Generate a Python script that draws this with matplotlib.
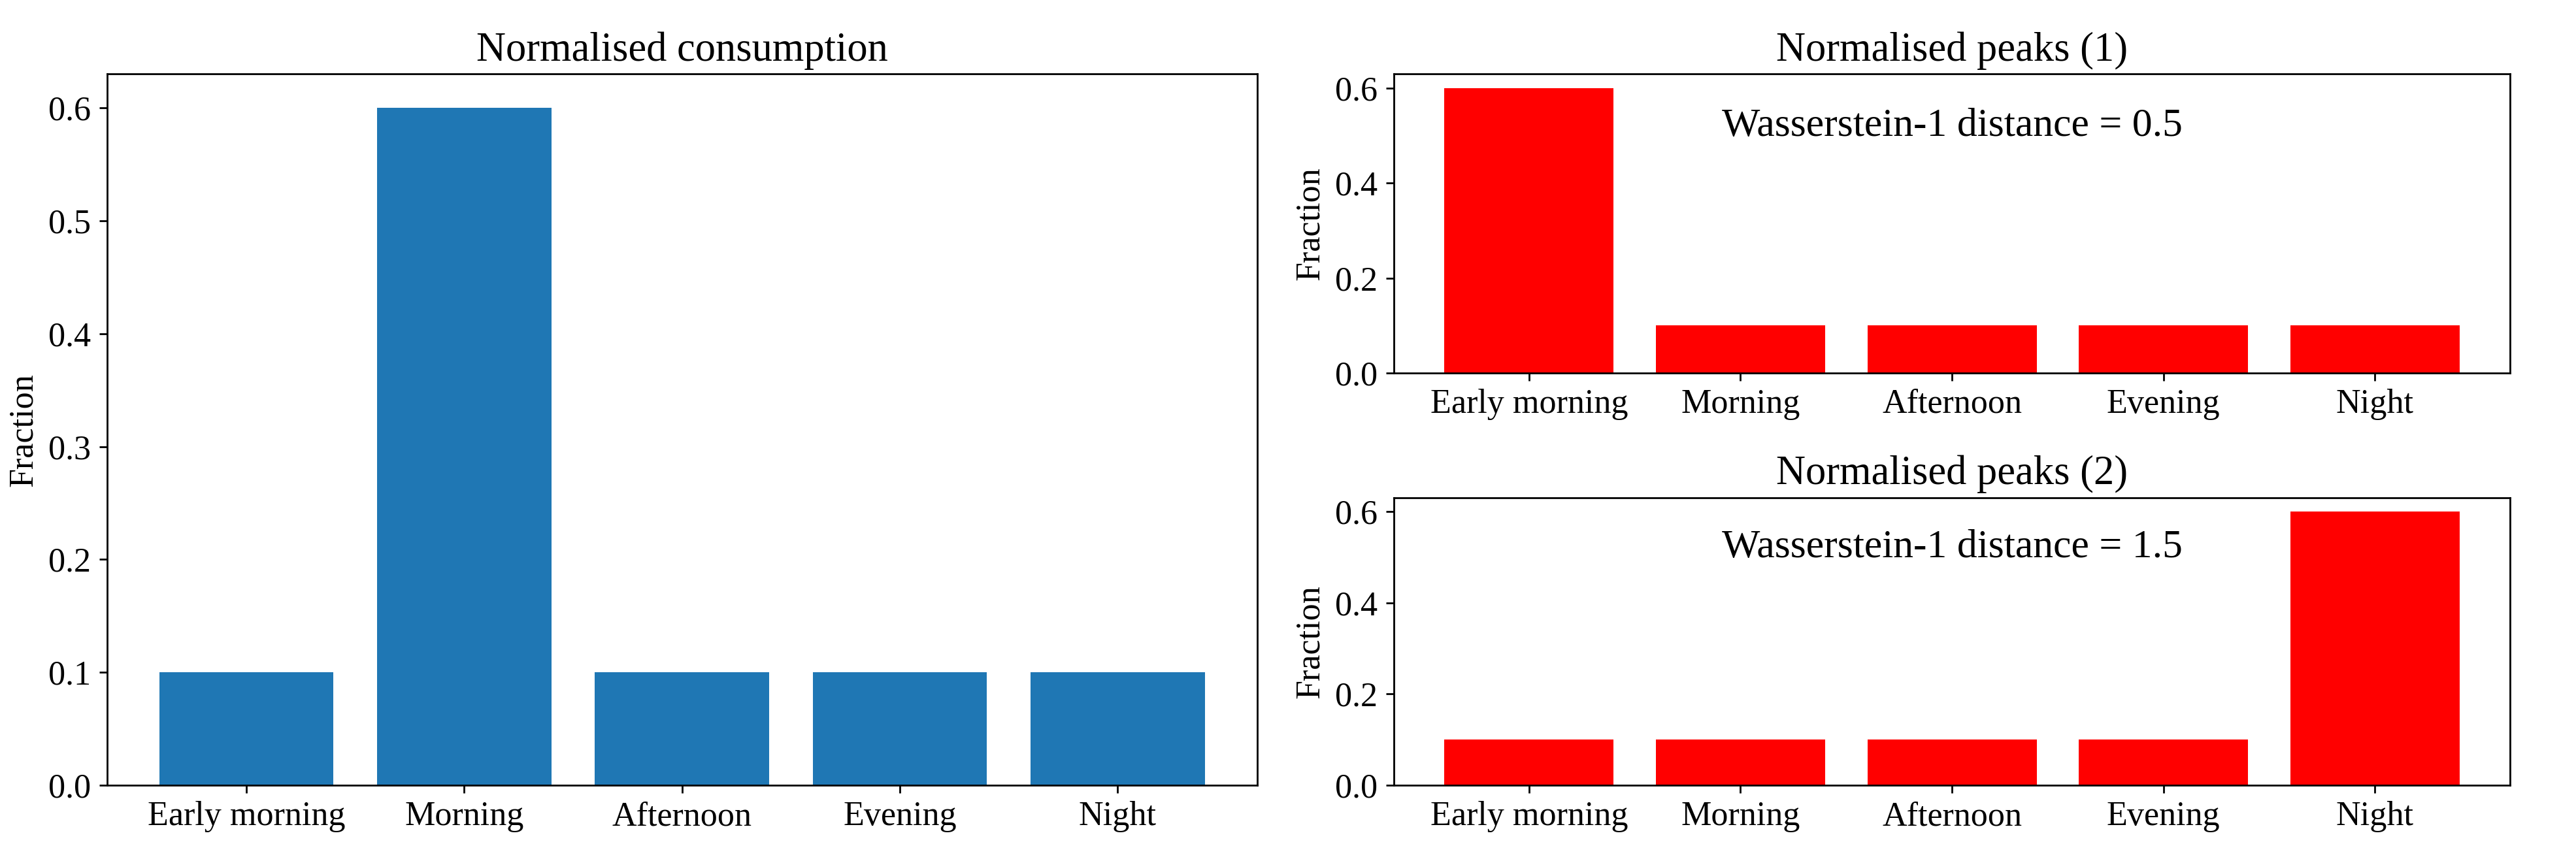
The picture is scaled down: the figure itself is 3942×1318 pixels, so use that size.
import matplotlib
matplotlib.use("Agg")
import matplotlib.pyplot as plt

plt.rcParams.update({
    "font.family": ["Liberation Serif", "DejaVu Serif"],
    "font.size": 15,
})

periods = ["Early morning", "Morning", "Afternoon", "Evening", "Night"]
consumption = [0.1, 0.6, 0.1, 0.1, 0.1]
peaks_1 = [0.6, 0.1, 0.1, 0.1, 0.1]
peaks_2 = [0.1, 0.1, 0.1, 0.1, 0.6]
w_dist_1 = 0.5
w_dist_2 = 1.5

fig = plt.figure(figsize=(15.768, 5.272), dpi=250)

ax_l = fig.add_axes([0.0415, 0.088, 0.4465, 0.826])
ax_t = fig.add_axes([0.541, 0.567, 0.4335, 0.347])
ax_b = fig.add_axes([0.541, 0.088, 0.4335, 0.334])

ax_l.bar(periods, consumption, color="#1f77b4")
ax_l.set_title("Normalised consumption", fontsize=18)
ax_l.set_ylabel("Fraction")

for ax, vals, title, d in [(ax_t, peaks_1, "Normalised peaks (1)", w_dist_1),
                           (ax_b, peaks_2, "Normalised peaks (2)", w_dist_2)]:
    ax.bar(periods, vals, color="red")
    ax.set_title(title, fontsize=18)
    ax.set_ylabel("Fraction")
    ax.text(2, 0.52, f"Wasserstein-1 distance = {d}", ha="center", va="center", fontsize=17.8)

fig.savefig("out.png", dpi=250)
